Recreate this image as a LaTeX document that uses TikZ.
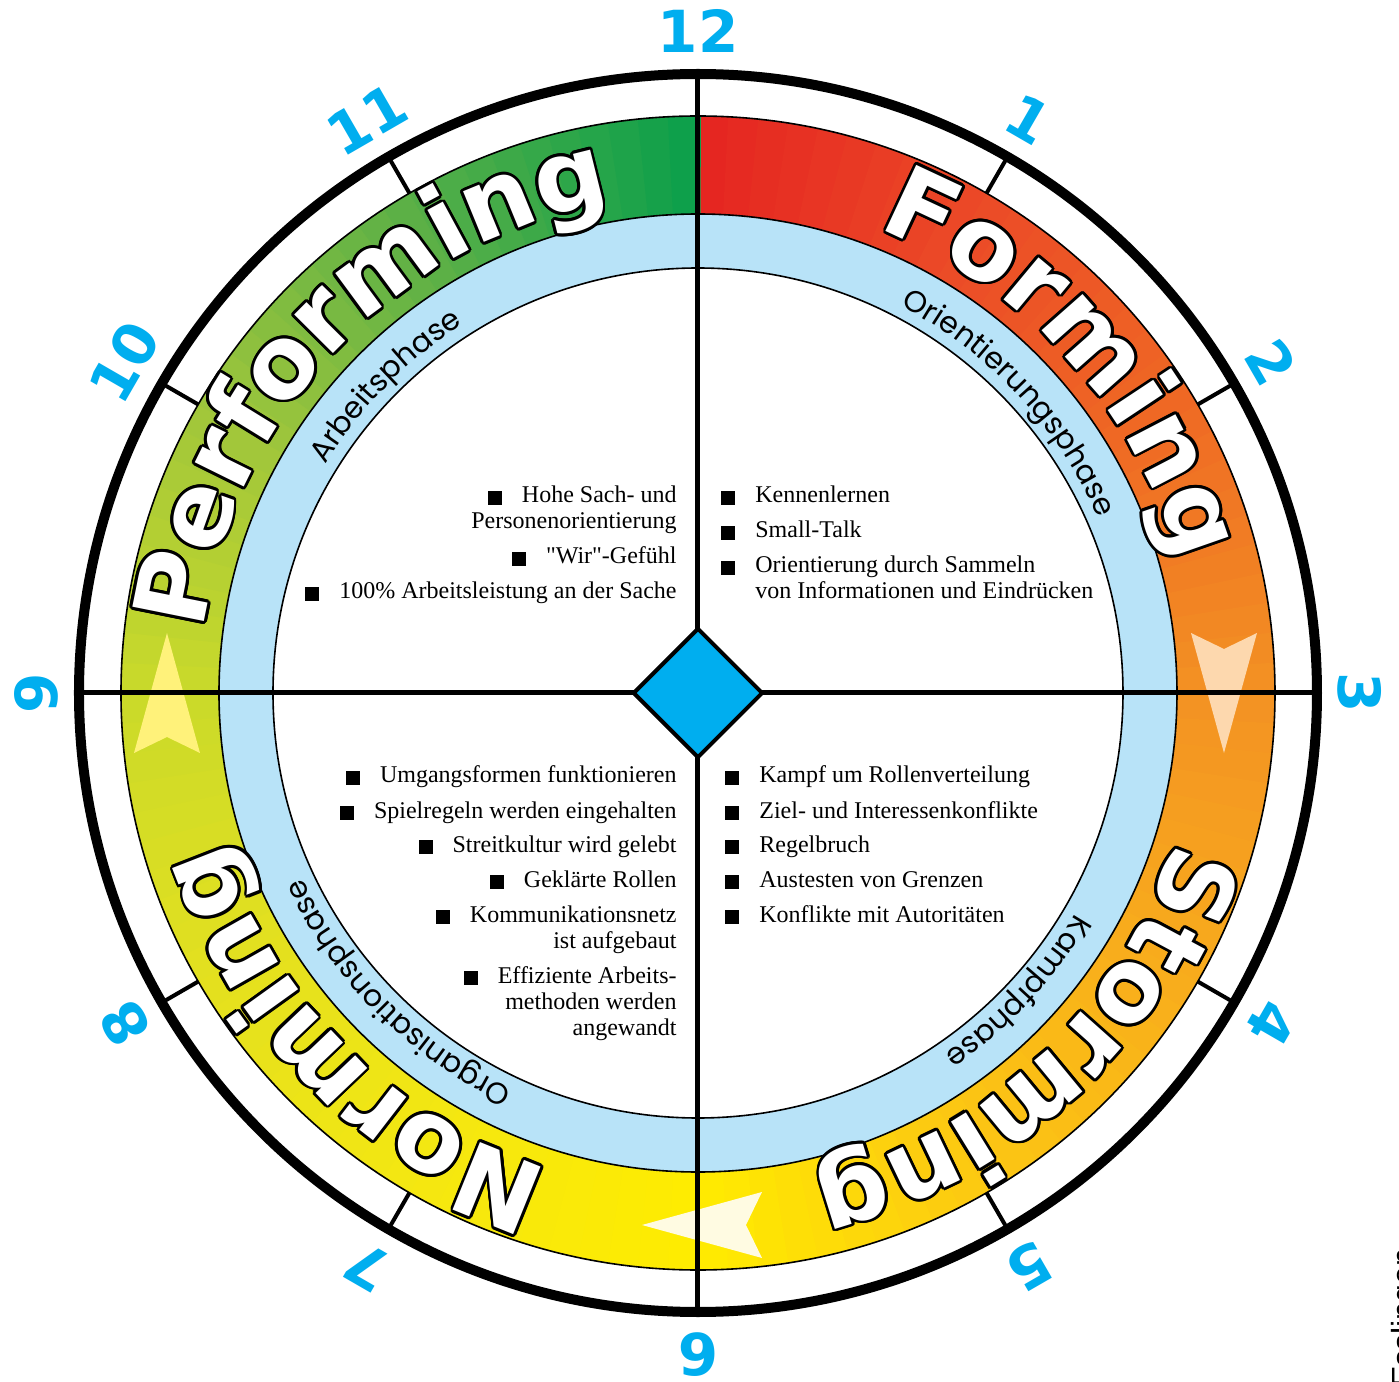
\documentclass[tikz,border=0pt]{standalone}
\usepackage{fontspec}
\usetikzlibrary{decorations.text, shapes.geometric}
\setmainfont{Liberation Serif}
\setsansfont{Liberation Sans}
\newfontfamily\clockfont{DejaVu Sans}
\newfontfamily\phasefont{Poppins}

\definecolor{clockblue}{HTML}{00AEEF}
\definecolor{phaseblue}{HTML}{B8E3F8}
\definecolor{hc0}{HTML}{E52421}
\definecolor{hc1}{HTML}{EB4A27}
\definecolor{hc2}{HTML}{EF6A24}
\definecolor{hc3}{HTML}{F39223}
\definecolor{hc4}{HTML}{F8AC1C}
\definecolor{hc5}{HTML}{FCC812}
\definecolor{hc6}{HTML}{FFEC00}
\definecolor{hc7}{HTML}{F4E711}
\definecolor{hc8}{HTML}{E3E01F}
\definecolor{hc9}{HTML}{CADA2A}
\definecolor{hc10}{HTML}{A0C63B}
\definecolor{hc11}{HTML}{58AF47}
\definecolor{hc12}{HTML}{0A9F4B}

\newcommand{\wordfmt}{\clockfont\bfseries\fontsize{50}{50}\selectfont}
\newcommand{\phasefmt}{\phasefont\fontsize{15}{15}\selectfont}
\newcommand{\sqbul}{\rule[-1pt]{7pt}{7pt}\hspace{10pt}}
% white word with black rim along the ring
\newcommand{\wordarc}[3]{%
  \foreach \d in {0,22.5,...,337.5}
    \path[wordrim=#1, shift={(\d:2.8)}] (#2:498) arc[start angle=#2, end angle=#3, radius=498];
  \path[wordface=#1] (#2:498) arc[start angle=#2, end angle=#3, radius=498];
}

\begin{document}
\begin{tikzpicture}[x=0.5pt, y=0.5pt,
    ring/.style={draw=black, line width=0.8pt},
    tick/.style={line width=2pt},
    clocknum/.style={font=\clockfont\bfseries\fontsize{29}{29}\selectfont, text=clockblue, inner sep=0pt},
    listR/.style={anchor=base west, align=left, inner sep=0pt, font=\fontsize{12}{13}\selectfont},
    listL/.style={anchor=base east, align=right, inner sep=0pt, font=\fontsize{12}{13}\selectfont},
    wordrim/.style={decorate, decoration={text along path, text align=center, text={|\wordfmt\color{black}|#1}}},
    wordface/.style={decorate, decoration={text along path, text align=center, text={|\wordfmt\color{white}|#1}}},
    phaselabel/.style={decorate, decoration={text along path, text align=center, text={|\phasefmt|#1}}}]
    \useasboundingbox (-698, -689) rectangle (701, 693);
    \fill[white] (-698, -689) rectangle (701, 693);

    % coloured ring, red to green clockwise
    \foreach \h in {0,...,11} {
      \pgfmathtruncatemacro\hn{\h+1}
      \foreach \k in {0,...,9} {
        \pgfmathsetmacro\aa{90-30*\h-3*\k}
        \pgfmathsetmacro\ab{\aa-3.3}
        \pgfmathtruncatemacro\pc{10*\k+5}
        \fill[fill=hc\hn!\pc!hc\h] (\aa:479) arc[start angle=\aa, end angle=\ab, radius=479]
          -- (\ab:577) arc[start angle=\ab, end angle=\aa, radius=577] -- cycle;
      }
    }
    \fill[phaseblue, even odd rule] (0, 0) circle[radius=479] (0, 0) circle[radius=425];
    \draw[ring] (0, 0) circle[radius=577];
    \draw[ring] (0, 0) circle[radius=479];
    \draw[ring] (0, 0) circle[radius=425];

    % arrows in the ring
    \fill[fill={rgb,255:red,253;green,216;blue,174}, shift={(526, 0)}, rotate=-90]
      (60, 0) -- (-60, 33) -- (-44, 0) -- (-60, -33) -- cycle;
    \fill[fill={rgb,255:red,255;green,251;blue,226}, shift={(4, -532)}, rotate=180]
      (60, 0) -- (-60, 33) -- (-44, 0) -- (-60, -33) -- cycle;
    \fill[fill={rgb,255:red,255;green,242;blue,122}, shift={(-531, 0)}, rotate=90]
      (60, 0) -- (-60, 33) -- (-44, 0) -- (-60, -33) -- cycle;

    % clock face
    \foreach \h in {1,2,4,5,7,8,10,11}
      \draw[tick] ({90-30*\h}:577) -- ({90-30*\h}:619);
    \draw[line width=2.5pt] (-619, 0) -- (619, 0);
    \draw[line width=2.5pt] (0, -619) -- (0, 619);
    \draw[line width=5pt] (0, 0) circle[radius=619];

    \foreach \h in {1,...,12}
      \node[clocknum, rotate={-30*\h}] (hour\h) at ({90-30*\h}:662) {\h};

    % phase names
    \wordarc{Forming}{87}{-3}
    \wordarc{Storming}{-2}{-92}
    \wordarc{Norming}{-90}{-180}
    \wordarc{Performing}{181.4}{91.4}

    \path[phaselabel=Orientierungsphase] (88:437) arc[start angle=88, end angle=-2, radius=437];
    \path[phaselabel=Kampfphase] (2:437) arc[start angle=2, end angle=-88, radius=437];
    \path[phaselabel=Organisationsphase] (-90:437) arc[start angle=-90, end angle=-180, radius=437];
    \path[phaselabel=Arbeitsphase] (180.5:437) arc[start angle=180.5, end angle=90.5, radius=437];

    \node[diamond, draw, line width=2pt, fill=clockblue, minimum size=65pt, inner sep=0pt] (core) at (0, 0) {};

    % lists (base = last line)
    \node[listR] (orient1) at (23, 190) {\sqbul Kennenlernen};
    \node[listR] (orient2) at (23, 155) {\sqbul Small-Talk};
    \node[listR] (orient3) at (23, 94) {\sqbul Orientierung durch Sammeln\\\hphantom{\sqbul}von Informationen und Eindrücken};

    \node[listL] (work1) at (-21, 164) {\sqbul Hohe Sach- und\\Personenorientierung};
    \node[listL] (work2) at (-21, 129) {\sqbul \textquotedbl Wir\textquotedbl-Gefühl};
    \node[listL] (work3) at (-21, 94) {\sqbul 100\% Arbeitsleistung an der Sache};

    \node[listR] (fight1) at (27, -90) {\sqbul Kampf um Rollenverteilung};
    \node[listR] (fight2) at (27, -125) {\sqbul Ziel- und Interessenkonflikte};
    \node[listR] (fight3) at (27, -159) {\sqbul Regelbruch};
    \node[listR] (fight4) at (27, -194) {\sqbul Austesten von Grenzen};
    \node[listR] (fight5) at (27, -229) {\sqbul Konflikte mit Autoritäten};

    \node[listL] (org1) at (-21, -90) {\sqbul Umgangsformen funktionieren};
    \node[listL] (org2) at (-21, -125) {\sqbul Spielregeln werden eingehalten};
    \node[listL] (org3) at (-21, -159) {\sqbul Streitkultur wird gelebt};
    \node[listL] (org4) at (-21, -194) {\sqbul Geklärte Rollen};
    \node[listL] (org5) at (-21, -255) {\sqbul Kommunikationsnetz\\ist aufgebaut};
    \node[listL] (org6) at (-21, -342) {\sqbul Effiziente Arbeits-\\methoden werden\\angewandt};

    \node[rotate=90, anchor=base west, inner sep=0pt, font=\sffamily\fontsize{16}{16}\selectfont] (place) at (716, -695) {Esslingen};
\end{tikzpicture}
\end{document}
